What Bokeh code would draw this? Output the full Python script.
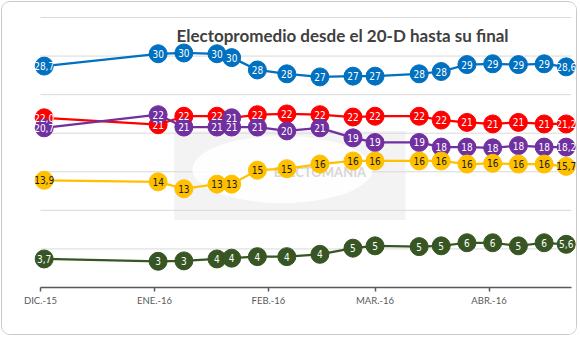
import pandas as pd
from bokeh.plotting import figure
from bokeh.models import ColumnDataSource, FixedTicker, Range1d, Label, BoxAnnotation
from bokeh.core.properties import value
from bokeh.embed import file_html
from bokeh.resources import INLINE

# ---------------- data ----------------
dates = ["2015-12-21", "2016-01-21", "2016-01-28", "2016-02-06", "2016-02-10",
         "2016-02-17", "2016-02-25", "2016-03-05", "2016-03-14", "2016-03-20",
         "2016-04-01", "2016-04-07", "2016-04-14", "2016-04-21", "2016-04-28",
         "2016-05-05", "2016-05-11"]

blue_vals = [28.7, 30.3, 30.4, 30.3, 29.8, 28.2, 27.7, 27.3, 27.4, 27.4,
             27.7, 28.0, 28.9, 29.0, 28.9, 29.0, 28.6]
blue_lbls = ["28,7", "30", "30", "30", "30", "28", "28", "27", "27", "27",
             "28", "28", "29", "29", "29", "29", "28,6"]

red_vals = [22.0, 21.1, 22.2, 22.2, 22.0, 22.4, 22.5, 22.4, 22.1, 22.2,
            22.2, 21.7, 21.4, 21.2, 21.4, 21.2, 21.2]
red_lbls = ["22,0", "21", "22", "22", "21", "22", "22", "22", "22", "22",
            "22", "22", "21", "21", "21", "21", "21,2"]

purple_vals = [20.7, 22.4, 20.8, 20.8, 20.8, 20.8, 20.3, 20.7, 19.4, 18.8,
               18.8, 18.2, 18.2, 18.1, 18.4, 18.2, 18.2]
purple_lbls = ["20,7", "22", "21", "21", "21", "21", "20", "21", "19", "19",
               "19", "18", "18", "18", "18", "18", "18,2"]

yellow_vals = [13.9, 13.7, 12.8, 13.4, 13.4, 15.2, 15.4, 16.0, 16.4, 16.4,
               16.4, 16.4, 16.0, 16.1, 16.0, 16.0, 15.7]
yellow_lbls = ["13,9", "14", "13", "13", "13", "15", "15", "16", "16", "16",
               "16", "16", "16", "16", "16", "16", "15,7"]

green_vals = [3.7, 3.4, 3.45, 3.7, 3.8, 4.0, 4.0, 4.3, 5.1, 5.4,
              5.3, 5.4, 5.8, 5.8, 5.4, 5.8, 5.6]
green_lbls = ["3,7", "3", "3", "4", "4", "4", "4", "4", "5", "5",
              "5", "5", "6", "6", "5", "6", "5,6"]

tick_dates = ["2015-12-20", "2016-01-20", "2016-02-20", "2016-03-20", "2016-04-20"]
tick_labels = ["DIC.-15", "ENE.-16", "FEB.-16", "MAR.-16", "ABR.-16"]
grid_values = [5, 10, 15, 20, 25, 30, 35]

title_text = "Electopromedio desde el 20-D hasta su final"
watermark_text = "ELECTOMANIA"

# ---------------- styling ----------------
BLUE = "#0070C0"
RED = "#FF0000"
PURPLE = "#7030A0"
YELLOW = "#FFC000"
GREEN = "#375623"
LABEL_FONT = value("'Liberation Sans Narrow', 'DejaVu Sans Condensed', sans-serif")

DAY = 86400000.0
x_dates = pd.to_datetime(dates)
tick_ms = [float(t.value // 10**6) for t in pd.to_datetime(tick_dates)]
x0 = tick_ms[0]
x_end = x0 + 144.4 * DAY   # end of plot area (axis line / gridlines)

p = figure(width=576, height=334, x_axis_type="datetime",
           output_backend="svg", toolbar_location=None,
           x_range=Range1d(x0 - 2.72 * DAY, x0 + 145.8 * DAY),
           y_range=Range1d(0, 35.13),
           min_border_left=28, min_border_right=2, min_border_top=14,
           min_border_bottom=49)
p.margin = (1, 1, 1, 1)
p.styles = {"border": "1px solid #c9c9c9", "border-radius": "9px",
            "overflow": "hidden"}
p.outline_line_color = None
p.background_fill_color = "white"
p.border_fill_color = "white"

# axes / grid
p.yaxis.visible = False
p.ygrid.visible = False
p.xgrid.visible = False

xa = p.xaxis[0]
xa.ticker = FixedTicker(ticks=tick_ms)
xa.bounds = (x0, x_end)
xa.major_label_overrides = {t: l for t, l in zip(tick_ms, tick_labels)}
xa.axis_line_color = "#595959"
xa.axis_line_width = 1.5
xa.major_tick_line_color = "#595959"
xa.major_tick_line_width = 1.5
xa.major_tick_in = 0
xa.major_tick_out = 4
xa.minor_tick_line_color = None
xa.major_label_text_font = "Lato"
xa.major_label_text_font_size = "9.5px"
xa.major_label_text_color = "#595959"
xa.major_label_standoff = 3

# horizontal gridlines spanning only the plot area
n = len(grid_values)
p.segment(x0=[x0] * n, x1=[x_end] * n, y0=grid_values, y1=grid_values,
          line_color="#d9d9d9", line_width=1)

# watermark (faint background decoration)
wm = BoxAnnotation(left=x0 + 36.4 * DAY, right=x0 + 99.3 * DAY, bottom=8.75, top=20.3,
                   fill_color="#eeeeee", fill_alpha=0.7, line_color=None, level="underlay")
p.add_layout(wm)
p.ellipse(x=[x0 + 65.8 * DAY], y=[15.3], width=49 * DAY, height=8.7,
          fill_color="white", fill_alpha=0.85, line_color=None)
p.text(x=[x0 + 76 * DAY], y=[15.0], text=[watermark_text], text_align="center",
       text_baseline="middle", text_color="#d6d6d6", text_font=value("Lato"),
       text_font_size="13px", text_font_style="bold")

series = [
    (blue_vals, blue_lbls, BLUE, "white"),
    (red_vals, red_lbls, RED, "white"),
    (purple_vals, purple_lbls, PURPLE, "white"),
    (yellow_vals, yellow_lbls, YELLOW, "#1a1a1a"),
    (green_vals, green_lbls, GREEN, "white"),
]

sources = []
for vals, lbls, col, tcol in series:
    marker_cols = [col] * len(vals)
    if col == RED:
        marker_cols[4] = PURPLE  # overlapped point appears purple in the original
    src = ColumnDataSource(dict(x=x_dates, y=vals, lbl=lbls, mc=marker_cols))
    sources.append((src, tcol))
    p.line("x", "y", source=src, line_color=col, line_width=2.25)
    p.scatter("x", "y", source=src, size=18, fill_color="mc", line_color="mc")

for src, tcol in sources:
    p.text("x", "y", text="lbl", source=src, text_align="center",
           text_baseline="middle", text_color=tcol, text_font=LABEL_FONT,
           text_font_size="10px")

title = Label(x=312, y=252, x_units="screen", y_units="screen", text=title_text,
              text_align="center", text_baseline="alphabetic",
              text_font="Lato", text_font_style="bold", text_font_size="17px",
              text_color="#404040")
p.add_layout(title)

open("out.html", "w").write(file_html(p, INLINE))
